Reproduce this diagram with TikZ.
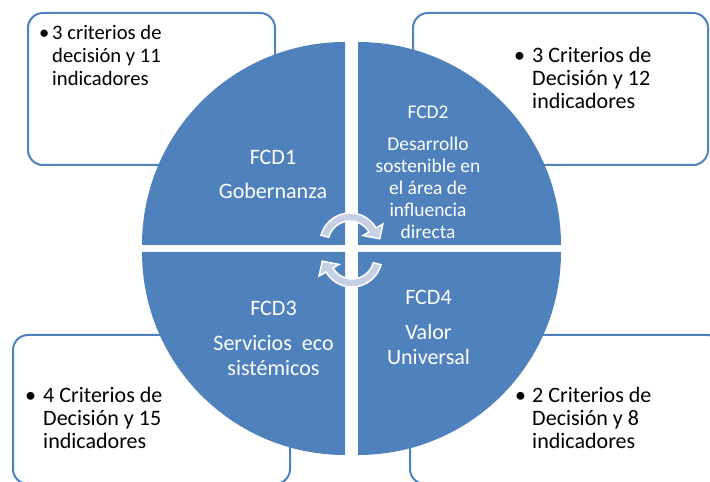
\documentclass[tikz,border=0pt]{standalone}
\usepackage{fontspec}
\setmainfont{Carlito}
\definecolor{fcdblue}{RGB}{79,129,189}
\definecolor{arrowgray}{RGB}{198,208,228}
\tikzset{
  critbox/.style={draw=fcdblue, line width=0.06cm, rounded corners=0.45cm, fill=white},
  quarter/.style={fill=fcdblue},
  fcdtext/.style={text=white, align=center, inner sep=0pt, font=\fontsize{18.8pt}{21pt}\selectfont},
  crittext/.style={anchor=base west, inner sep=0pt, font=\fontsize{18.8pt}{19.6pt}\selectfont},
  cyclearrow/.pic={
    \filldraw[fill=arrowgray, draw=white, line width=0.045cm] (165:30) arc[start angle=165, end angle=30, radius=30] -- (30:38) -- (8:30) -- (30:15) -- (30:22) arc[start angle=30, end angle=165, radius=22] -- cycle;
  }
}
\begin{document}
\begin{tikzpicture}[x=0.03cm, y=0.03cm]
\useasboundingbox (0,0) rectangle (710,481);
\clip (0,0) rectangle (710,481);
% boxes behind the circle
\draw[critbox] (28,468) rectangle (275,316);
\draw[critbox] (413,468) rectangle (708,316);
\draw[critbox] (13,146) rectangle (290,-3);
\draw[critbox] (410,146) rectangle (722,-3);
% four quarters
\fill[quarter] (345,236) -- (142,236) arc[start angle=180, end angle=90, radius=203] -- cycle;
\fill[quarter] (358,236) -- (358,439) arc[start angle=90, end angle=0, radius=203] -- cycle;
\fill[quarter] (345,229) -- (142,229) arc[start angle=180, end angle=270, radius=203] -- cycle;
\fill[quarter] (358,229) -- (561,229) arc[start angle=0, end angle=-90, radius=203] -- cycle;
\pic at (350,238) {cyclearrow};
\pic[rotate=180] at (352,224) {cyclearrow};
% texts
\node[fcdtext] (fcd1) at (273,307) {FCD1\\[0.28cm]Gobernanza};
\node[fcdtext, font=\fontsize{16.6pt}{18.8pt}\selectfont] (fcd2) at (428,308.5) {FCD2\\[0.3cm]Desarrollo\\sostenible en\\el área de\\influencia\\directa};
\node[fcdtext, font=\fontsize{18.8pt}{21.3pt}\selectfont] (fcd3) at (273.5,143) {FCD3\\[0.3cm]Servicios\ \ eco\\sistémicos};
\node[fcdtext] (fcd4) at (428.5,153.5) {FCD4\\[0.3cm]Valor\\Universal};
\node[crittext, font=\fontsize{17.6pt}{19.6pt}\selectfont] (crit1) at (39,441) {\begin{tabular}[t]{@{}p{0.39cm}@{}l@{}}\textbullet & 3 criterios de\\ & decisión y 11\\ & indicadores\end{tabular}};
\node[crittext] (crit2) at (514,418) {\begin{tabular}[t]{@{}p{0.54cm}@{}l@{}}\textbullet & 3 Criterios de\\ & Decisión y 12\\ & indicadores\end{tabular}};
\node[crittext] (crit3) at (25,78) {\begin{tabular}[t]{@{}p{0.54cm}@{}l@{}}\textbullet & 4 Criterios de\\ & Decisión y 15\\ & indicadores\end{tabular}};
\node[crittext] (crit4) at (515,78) {\begin{tabular}[t]{@{}p{0.51cm}@{}l@{}}\textbullet & 2 Criterios de\\ & Decisión y 8\\ & indicadores\end{tabular}};
\end{tikzpicture}
\end{document}
